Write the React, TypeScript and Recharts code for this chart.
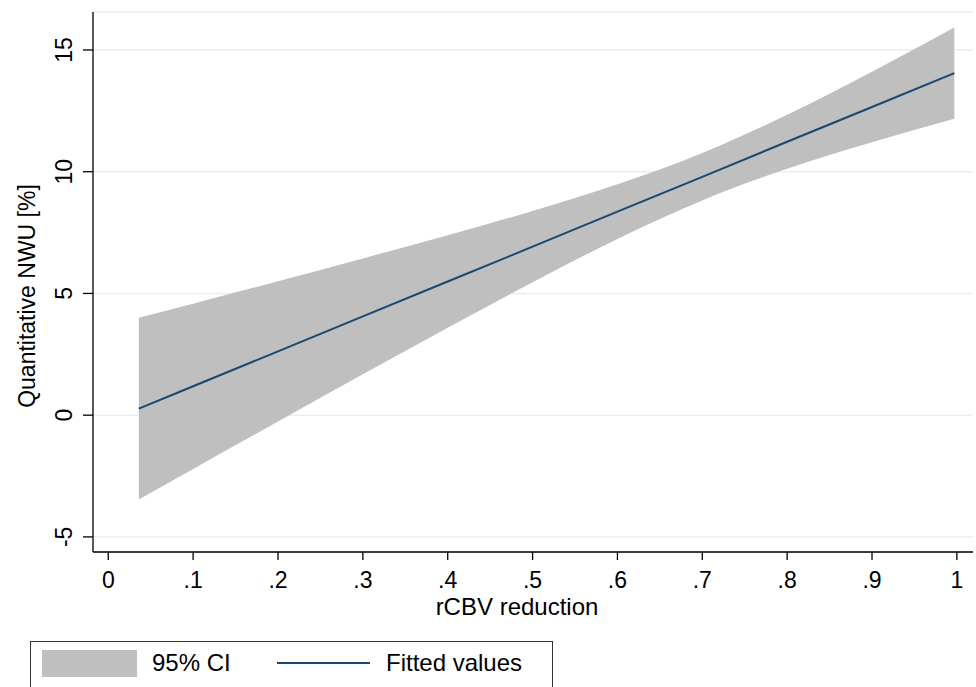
import { ComposedChart, Area, Line, XAxis, YAxis, CartesianGrid } from "recharts";

// readings taken off the reference plot
const rcbv = [0.036, 0.1, 0.2, 0.3, 0.4, 0.5, 0.6, 0.7, 0.8, 0.9, 0.997];
const fitted = [0.27, 1.19, 2.62, 4.06, 5.49, 6.92, 8.36, 9.79, 11.23, 12.66, 14.05];
const ciLow = [-3.46, -2.21, -0.26, 1.68, 3.59, 5.46, 7.24, 8.82, 10.12, 11.21, 12.18];
const ciHigh = [4.0, 4.58, 5.5, 6.44, 7.39, 8.39, 9.48, 10.77, 12.34, 14.11, 15.92];

const xTicks = [0, 0.1, 0.2, 0.3, 0.4, 0.5, 0.6, 0.7, 0.8, 0.9, 1];
const yTicks = [-5, 0, 5, 10, 15];

const data = rcbv.map((x, i) => ({ x, fit: fitted[i], ci: [ciLow[i], ciHigh[i]] }));

const FONT = "'Liberation Sans', Arial, Helvetica, sans-serif";
const NAVY = "#1a476f";
const GRAY = "#bfbfbf";

const fmtX = (v: number) => (v === 0 ? "0" : v === 1 ? "1" : String(Math.round(v * 10) / 10).replace(/^0/, ""));

function XTick(props: any) {
  const { x, y, payload } = props;
  return (
    <text x={x} y={y + 26} textAnchor="middle" fontSize={23} fontFamily={FONT} fill="#000">
      {fmtX(payload.value)}
    </text>
  );
}

function YTick(props: any) {
  const { x, y, payload } = props;
  return (
    <text
      x={0}
      y={0}
      transform={`translate(${x - 9},${y}) rotate(-90)`}
      textAnchor="middle"
      fontSize={23}
      fontFamily={FONT}
      fill="#000"
    >
      {payload.value}
    </text>
  );
}

export default function App() {
  return (
    <div style={{ position: "absolute", left: 0, top: 0, width: 976, height: 687, background: "#fff", overflow: "hidden" }}>
      <ComposedChart width={976} height={687} data={data} margin={{ top: 12, right: 3, left: 0, bottom: 0 }}>
        <CartesianGrid horizontal vertical={false} stroke="#e6eff1" strokeWidth={1.5} />
        <XAxis
          type="number"
          dataKey="x"
          domain={[-0.018, 1.019]}
          allowDataOverflow
          ticks={xTicks}
          height={135}
          tickSize={8}
          stroke="#000"
          strokeWidth={1.3}
          tick={<XTick />}
          label={{
            content: () => (
              <text x={517} y={615} textAnchor="middle" fontSize={24} fontFamily={FONT} fill="#000">
                rCBV reduction
              </text>
            ),
          }}
        />
        <YAxis
          type="number"
          domain={[-5.62, 16.56]}
          allowDataOverflow
          ticks={yTicks}
          width={93}
          tickSize={10}
          stroke="#000"
          strokeWidth={1.3}
          tick={<YTick />}
          label={{
            content: () => (
              <text
                x={0}
                y={0}
                transform="translate(35,296) rotate(-90)"
                textAnchor="middle"
                fontSize={23}
                fontFamily={FONT}
                fill="#000"
              >
                Quantitative NWU [%]
              </text>
            ),
          }}
        />
        <Area
          dataKey="ci"
          type="monotone"
          fill={GRAY}
          fillOpacity={1}
          stroke="none"
          isAnimationActive={false}
        />
        <Line dataKey="fit" type="linear" stroke={NAVY} strokeWidth={2} dot={false} isAnimationActive={false} />
      </ComposedChart>

      {/* legend box, bottom edge runs off the page like the reference */}
      <div
        style={{
          position: "absolute",
          left: 30,
          top: 641,
          width: 523,
          height: 50,
          border: "1.5px solid #333",
          boxSizing: "border-box",
          fontFamily: FONT,
          fontSize: 24,
          color: "#000",
        }}
      >
        <div style={{ position: "absolute", left: 11, top: 8, width: 95, height: 27, background: GRAY }} />
        <div style={{ position: "absolute", left: 121, top: 7, lineHeight: "28px", whiteSpace: "nowrap" }}>95% CI</div>
        <div style={{ position: "absolute", left: 246, top: 20, width: 93, height: 2, background: NAVY }} />
        <div style={{ position: "absolute", left: 355, top: 7, lineHeight: "28px", whiteSpace: "nowrap" }}>Fitted values</div>
      </div>
    </div>
  );
}
